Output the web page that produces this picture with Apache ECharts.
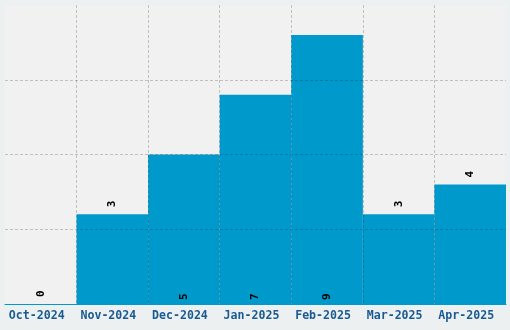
<!DOCTYPE html>
<html>
<head>
<meta charset="utf-8">
<script src="https://cdn.jsdelivr.net/npm/echarts@6/dist/echarts.min.js"></script>
<style>
html,body{margin:0;padding:0;background:#edf0f1;}
#c{width:510px;height:330px;}
</style>
</head>
<body>
<div id="c"></div>
<script>
const categories = ['Oct-2024','Nov-2024','Dec-2024','Jan-2025','Feb-2025','Mar-2025','Apr-2025'];
const values = [0, 3, 5, 7, 9, 3, 4];
const yMax = 10;
const yInterval = 2.5;

const chart = echarts.init(document.getElementById('c'), null, {renderer:'canvas'});
const gridLine = {show:true, lineStyle:{color:'rgba(0,0,0,0.2)', type:[3,2], width:1}, showMinLine:false, showMaxLine:false};
chart.setOption({
  backgroundColor:'#edf0f1',
  animation:false,
  grid:{left:5, right:4, top:5, bottom:26, show:true, backgroundColor:'#f1f1f1', borderWidth:0, containLabel:false},
  xAxis:{
    type:'category', data:categories, z:5,
    axisLine:{show:true, lineStyle:{color:'#0099cc', width:1}},
    axisTick:{show:false},
    axisLabel:{color:'#1a5a93', fontFamily:'DejaVu Sans Mono', fontWeight:'bold', fontSize:11.6, margin:6, interval:0, padding:[0,8,0,0]},
    splitLine:gridLine
  },
  yAxis:{
    type:'value', min:0, max:yMax, interval:yInterval, z:5,
    axisLine:{show:false}, axisTick:{show:false}, axisLabel:{show:false},
    splitLine:gridLine
  },
  series:[{
    type:'bar', barCategoryGap:'0%',
    itemStyle:{color:'#0099cc'},
    data: values.map(v => ({
      value:v,
      label:{show:true, position: v >= 5 ? 'insideBottom' : 'top', rotate:90,
        align:'left', verticalAlign:'middle',
        color:'#000', fontFamily:'DejaVu Sans Mono', fontWeight:'bold', fontSize:11, distance: v >= 5 ? 4 : 7}
    }))
  }]
});
</script>
</body>
</html>
